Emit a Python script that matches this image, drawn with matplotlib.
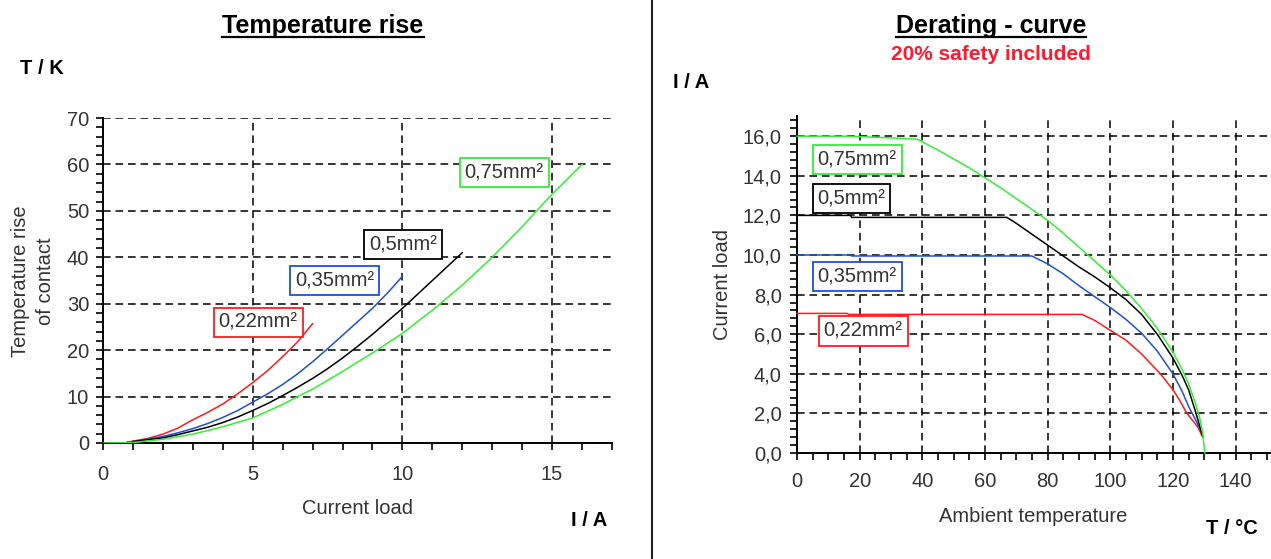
import matplotlib
matplotlib.use("Agg")
import matplotlib.pyplot as plt
from matplotlib.lines import Line2D
from matplotlib.ticker import MultipleLocator, FuncFormatter

plt.rcParams['font.family'] = ['Liberation Sans', 'DejaVu Sans']
plt.rcParams['lines.scale_dashes'] = False

# ---------------- data: temperature rise (left) ----------------
I_022 = [0.8, 1.0, 1.5, 2.0, 2.5, 3.0, 3.5, 4.0, 4.5, 5.0, 5.5, 6.0, 6.5, 7.0]
T_022 = [0.2, 0.4, 1.0, 1.9, 3.2, 5.0, 6.6, 8.4, 10.6, 13.0, 15.6, 18.6, 21.8, 25.7]

I_035 = [0.8, 1.0, 1.5, 2.0, 2.5, 3.0, 3.5, 4.0, 4.5, 5.0, 5.5, 6.0, 6.5, 7.0, 7.5, 8.0, 8.5, 9.0, 9.5, 10.0]
T_035 = [0.1, 0.3, 0.8, 1.4, 2.2, 3.1, 4.2, 5.5, 7.0, 8.8, 10.6, 12.6, 14.9, 17.5, 20.3, 23.2, 26.1, 29.0, 32.3, 35.9]

I_05 = [1.0, 1.5, 2.0, 2.5, 3.0, 3.5, 4.0, 4.5, 5.0, 5.5, 6.0, 6.5, 7.0, 7.5, 8.0, 8.5, 9.0, 9.5, 10.0, 10.5, 11.0, 11.5, 12.0]
T_05 = [0.3, 0.7, 1.1, 1.8, 2.6, 3.4, 4.4, 5.6, 7.0, 8.5, 10.2, 12.0, 13.9, 16.0, 18.3, 20.8, 23.4, 26.2, 29.0, 32.0, 35.0, 38.0, 41.0]

I_075 = [0.0, 0.8, 1.0, 2.0, 3.0, 4.0, 5.0, 6.0, 6.5, 7.0, 8.0, 9.0, 10.0, 11.0, 12.0, 13.0, 14.0, 15.0, 16.0]
T_075 = [0.0, 0.05, 0.1, 0.8, 1.9, 3.5, 5.4, 8.3, 10.0, 11.6, 15.4, 19.4, 23.6, 28.6, 34.0, 40.0, 46.6, 53.6, 60.0]

# ---------------- data: derating curve (right) ----------------
Ta_075 = [0, 16, 25, 38.4, 45, 50, 55, 60, 65, 70, 75, 80, 85, 90, 95, 100, 105, 110, 115, 120, 123, 125, 127, 128.5, 129.5, 130.2]
Ia_075 = [16.0, 16.0, 15.95, 15.85, 15.3, 14.85, 14.4, 13.9, 13.4, 12.85, 12.3, 11.75, 11.1, 10.4, 9.7, 9.0, 8.2, 7.3, 6.3, 5.1, 4.2, 3.5, 2.6, 1.8, 1.0, 0.0]

Ta_05 = [0, 17, 17.5, 67, 70, 75, 80, 85, 90, 95, 100, 105, 110, 115, 120, 123, 125, 127, 128.5, 129.5]
Ia_05 = [12.0, 12.0, 11.9, 11.9, 11.6, 11.05, 10.5, 9.95, 9.4, 8.9, 8.35, 7.75, 7.0, 6.0, 4.8, 3.9, 3.2, 2.2, 1.4, 0.85]

Ta_035 = [0, 17, 17.5, 75, 80, 85, 90, 95, 100, 105, 110, 115, 120, 123, 125, 127, 129]
Ia_035 = [10.0, 10.0, 9.95, 9.95, 9.55, 9.05, 8.45, 7.9, 7.35, 6.75, 6.05, 5.15, 4.0, 3.1, 2.35, 1.75, 1.1]

Ta_022 = [0, 16, 16.5, 91, 95, 100, 105, 110, 116, 120, 122, 124.5, 126.5, 128, 129.5]
Ia_022 = [7.05, 7.05, 7.0, 7.0, 6.7, 6.2, 5.7, 5.0, 4.0, 3.2, 2.7, 2.0, 1.6, 1.3, 0.8]

labels = ["0,22mm²", "0,35mm²", "0,5mm²", "0,75mm²"]
colors = ["#ff1a1a", "#1f4fd6", "#000000", "#33ee33"]

W, H = 1271, 559
fig = plt.figure(figsize=(W / 100, H / 100), dpi=100)

def fx(px):
    return px / W

def fy(py):
    return 1 - py / H

TICK_COLOR = "#333333"
GRID_KW = dict(color="black", linestyle=(0, (5.5, 3.5)), linewidth=1.1)


def style_axes(ax):
    for s in ("top", "right"):
        ax.spines[s].set_visible(False)
    for s in ("left", "bottom"):
        ax.spines[s].set_linewidth(1.4)
        ax.spines[s].set_color("black")
    ax.tick_params(which="both", direction="out", length=5, width=1.2, color="black",
                   labelsize=14.5, labelcolor=TICK_COLOR)
    ax.grid(True, which="major", **GRID_KW)
    ax.set_axisbelow(True)


# ---------------- left axes ----------------
ax1 = fig.add_axes([fx(103), fy(443), fx(612 - 103), (443 - 118) / H])
style_axes(ax1)
ax1.set_xlim(0, 17)
ax1.set_ylim(0, 70)
ax1.xaxis.set_major_locator(MultipleLocator(5))
ax1.xaxis.set_minor_locator(MultipleLocator(1))
ax1.yaxis.set_major_locator(MultipleLocator(10))
ax1.yaxis.set_minor_locator(MultipleLocator(2))
ax1.tick_params(axis="x", pad=11)
ax1.tick_params(axis="y", pad=5)

series_left = [(I_022, T_022), (I_035, T_035), (I_05, T_05), (I_075, T_075)]
for (x, y), c in zip(series_left, colors):
    ax1.plot(x, y, color=c, lw=1.1, zorder=3)

left_box_pos = [(5.18, 26.0), (7.73, 34.9), (10.03, 42.75), (13.4, 58.2)]
for (bx, by), lab, c in zip(left_box_pos, labels, colors):
    ax1.text(bx, by, lab, ha="center", va="center", fontsize=14.5, color="#333333", zorder=5,
             bbox=dict(boxstyle="square,pad=0.25", fc="white", ec=c, lw=1.3))

# ---------------- right axes ----------------
ax2 = fig.add_axes([fx(797), fy(453), fx(1270 - 797), (453 - 116.4) / H])
style_axes(ax2)
ax2.set_xlim(0, 151)
ax2.set_ylim(0, 17)
ax2.xaxis.set_major_locator(MultipleLocator(20))
ax2.xaxis.set_minor_locator(MultipleLocator(5))
ax2.yaxis.set_major_locator(MultipleLocator(2))
ax2.yaxis.set_minor_locator(MultipleLocator(0.4))
ax2.yaxis.set_major_formatter(FuncFormatter(lambda v, p: f"{v:.1f}".replace(".", ",")))
ax2.tick_params(axis="x", pad=9)
ax2.tick_params(axis="y", pad=6)

series_right = [(Ta_022, Ia_022), (Ta_035, Ia_035), (Ta_05, Ia_05), (Ta_075, Ia_075)]
for (x, y), c in zip(series_right, colors):
    ax2.plot(x, y, color=c, lw=1.1, zorder=3, clip_on=False)

right_box_pos = [(21.1, 6.16), (19.2, 8.9), (17.4, 12.85), (19.2, 14.8)]
for (bx, by), lab, c in zip(right_box_pos, labels, colors):
    ax2.text(bx, by, lab, ha="center", va="center", fontsize=14.5, color="#333333", zorder=5,
             bbox=dict(boxstyle="square,pad=0.25", fc="white", ec=c, lw=1.3))

# ---------------- figure texts ----------------
t1 = fig.text(fx(323), fy(26), "Temperature rise", ha="center", va="center",
              fontsize=18, fontweight="bold", color="black")
t2 = fig.text(fx(991), fy(26), "Derating - curve", ha="center", va="center",
              fontsize=18, fontweight="bold", color="black")
fig.text(fx(991), fy(55), "20% safety included", ha="center", va="center",
         fontsize=15, fontweight="bold", color="#ff1a2e")

fig.text(fx(20), fy(69), "T / K", ha="left", va="center", fontsize=14.5, fontweight="bold")
fig.text(fx(607), fy(521), "I / A", ha="right", va="center", fontsize=14.5, fontweight="bold")
fig.text(fx(673), fy(82), "I / A", ha="left", va="center", fontsize=14.5, fontweight="bold")
fig.text(fx(1258), fy(528), "T / °C", ha="right", va="center", fontsize=14.5, fontweight="bold")

fig.text(fx(357), fy(508), "Current load", ha="center", va="center", fontsize=14.5, color="#333333")
fig.text(fx(1033), fy(516), "Ambient temperature", ha="center", va="center", fontsize=14.5, color="#333333")
fig.text(fx(33), fy(281), "Temperature rise\nof contact", ha="center", va="center", rotation=90,
         fontsize=14.5, color="#333333", linespacing=1.4)
fig.text(fx(722), fy(284), "Current load", ha="center", va="center", rotation=90,
         fontsize=14.5, color="#333333")

# separator line
fig.add_artist(Line2D([fx(652), fx(652)], [0, 1], color="#222222", lw=1.5))

# underline titles
fig.canvas.draw()
renderer = fig.canvas.get_renderer()
for t in (t1, t2):
    bb = t.get_window_extent(renderer)
    yline = bb.y0 + 1.0
    fig.add_artist(Line2D([bb.x0 / W, bb.x1 / W], [yline / H, yline / H],
                          color="black", lw=1.6))

fig.savefig("out.png", dpi=100)
